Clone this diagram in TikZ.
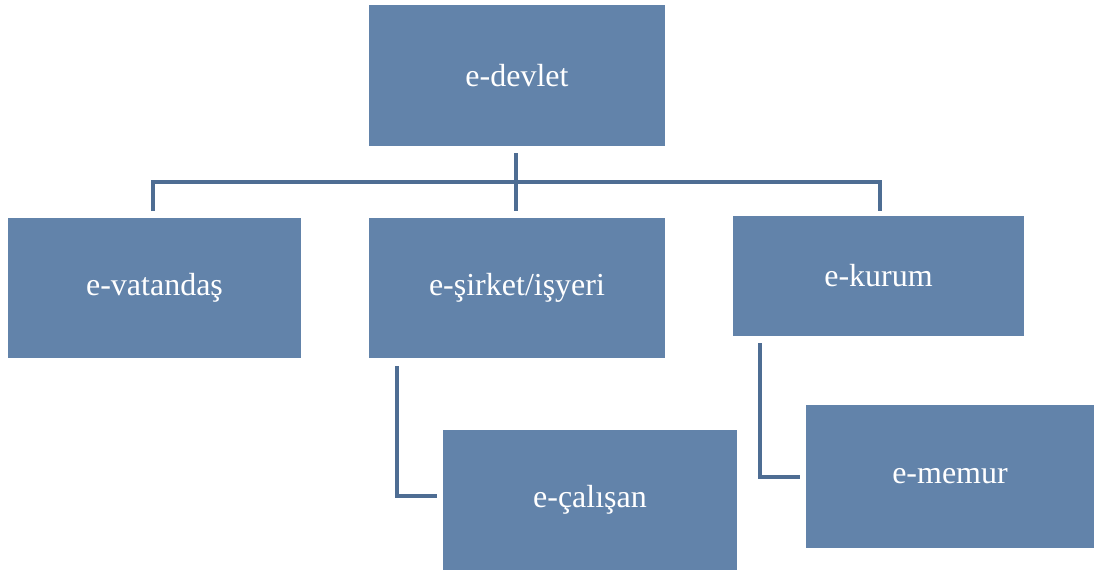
\documentclass[tikz,border=0pt]{standalone}
\usepackage{fontspec}
\setmainfont{Liberation Serif}
\definecolor{boxfill}{HTML}{6283AA}
\definecolor{linec}{HTML}{4E6D93}
\begin{document}
\begin{tikzpicture}[x=0.75pt,y=-0.75pt,
  box/.style={draw=none,fill=boxfill,text=white,font=\fontsize{24}{28}\selectfont,inner sep=0pt},
  conn/.style={draw=linec,line width=3.6pt}]
\useasboundingbox (0,0) rectangle (1094,575);
\node[box,minimum width=222pt,minimum height=106pt] (dev) at (517,75.5) {e-devlet};
\node[box,minimum width=220pt,minimum height=105pt] (vat) at (154.5,288) {e-vatandaş};
\node[box,minimum width=222pt,minimum height=105pt] (sir) at (517,288) {e-şirket/işyeri};
\node[box,minimum width=218pt,minimum height=90pt] (kur) at (878.5,276) {e-kurum};
\node[box,minimum width=220pt,minimum height=105pt] (cal) at (590,500) {e-çalışan};
\node[box,minimum width=216pt,minimum height=107pt] (mem) at (950,476.5) {e-memur};
\coordinate (top) at (516,153);
\coordinate (bl) at (153,182);
\coordinate (br) at (880,182);
\coordinate (vb) at (153,211);
\coordinate (sb) at (516,211);
\coordinate (kb) at (880,211);
\draw[conn] (top) -- (sb);
\draw[conn] (vb) -- (bl) -- (br) -- (kb);
\coordinate (s1) at (397,366);
\coordinate (s2) at (397,496);
\coordinate (s3) at (437,496);
\draw[conn] (s1) -- (s2) -- (s3);
\coordinate (k1) at (760,343);
\coordinate (k2) at (760,477);
\coordinate (k3) at (800,477);
\draw[conn] (k1) -- (k2) -- (k3);
\end{tikzpicture}
\end{document}
